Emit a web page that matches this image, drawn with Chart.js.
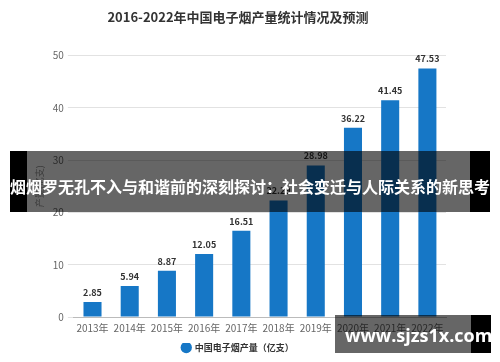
<!DOCTYPE html>
<html>
<head>
<meta charset="utf-8">
<script src="https://cdn.jsdelivr.net/npm/chart.js@4/dist/chart.umd.min.js"></script>
<style>
  html, body { margin: 0; padding: 0; background: #fff; }
  #wrap { position: relative; width: 500px; height: 362px; overflow: hidden; }
  #chart { position: absolute; left: 0; top: 0; }
  .banner {
    position: absolute; left: 10px; top: 151px; width: 480px; height: 61px;
    background: rgba(0,0,0,0.6);
  }
  .banner .edge-l { position: absolute; left: 0; top: 0; width: 17px; height: 100%; background: #000; }
  .banner .edge-r { position: absolute; right: 0; top: 0; width: 20px; height: 100%; background: #000; }
  .banner .txt {
    position: absolute; left: -10px; top: 25px; width: 500px; text-align: center;
    color: #fff; font: bold 16px "Noto Sans CJK SC", sans-serif; white-space: nowrap; line-height: 20px;
  }
  .mark {
    position: absolute; left: 335px; top: 315px; width: 156px; height: 38px;
    background: rgba(0,0,0,0.6);
  }
  .mark .edge-r { position: absolute; right: 0; top: 0; width: 20px; height: 100%; background: #000; }
  .mark .txt {
    position: absolute; left: 10px; top: 9px; color: #fff;
    font: bold 18px "Open Sans", sans-serif; line-height: 22px; white-space: nowrap;
  }
</style>
</head>
<body>
<div id="wrap">
  <canvas id="chart" width="500" height="362"></canvas>
  <div class="banner">
    <div class="edge-l"></div><div class="edge-r"></div>
    <div class="txt">烟烟罗无孔不入与和谐前的深刻探讨：社会变迁与人际关系的新思考</div>
  </div>
  <div class="mark">
    <div class="edge-r"></div>
    <div class="txt">www.sjzs1x.com</div>
  </div>
</div>
<script>
const years = ['2013年', '2014年', '2015年', '2016年', '2017年', '2018年', '2019年', '2020年', '2021年', '2022年'];
const output = [2.85, 5.94, 8.87, 12.05, 16.51, 22.29, 28.98, 36.22, 41.45, 47.53];
const seriesName = '中国电子烟产量（亿支）';
const chartTitle = '2016-2022年中国电子烟产量统计情况及预测';
const yTicks = [0, 10, 20, 30, 40, 50];

const FONT = '"Noto Sans CJK SC", "Noto Sans", sans-serif';
const BLUE = '#1677c6';

// value labels over bars
const barLabels = {
  id: 'barLabels',
  afterDatasetsDraw(chart) {
    const ctx = chart.ctx;
    const meta = chart.getDatasetMeta(0);
    ctx.save();
    ctx.font = 'bold 9px ' + FONT;
    ctx.fillStyle = '#333';
    ctx.textAlign = 'center';
    ctx.textBaseline = 'bottom';
    meta.data.forEach((bar, i) => {
      ctx.fillText(output[i].toFixed(2), bar.x, bar.y - 5);
    });
    ctx.restore();
  }
};

new Chart(document.getElementById('chart'), {
  type: 'bar',
  data: {
    labels: years,
    datasets: [{
      label: seriesName,
      data: output,
      backgroundColor: BLUE,
      barPercentage: 0.5,
      categoryPercentage: 0.97
    }]
  },
  options: {
    responsive: false,
    animation: false,
    layout: { padding: { left: 30, right: 54, top: 0, bottom: 0 } },
    plugins: {
      title: {
        display: true,
        text: chartTitle,
        color: '#333',
        font: { family: FONT, size: 13, weight: 'bold' },
        padding: { top: 9, bottom: 31 }
      },
      legend: {
        position: 'bottom',
        labels: {
          usePointStyle: true,
          pointStyle: 'circle',
          boxWidth: 8,
          boxHeight: 8,
          color: '#333',
          font: { family: FONT, size: 9, weight: 'bold' },
          padding: 0
        }
      },
      tooltip: { enabled: false }
    },
    scales: {
      x: {
        grid: { display: false, drawTicks: false },
        border: { color: '#bbb' },
        ticks: {
          color: '#666', font: { family: FONT, size: 10 }, padding: 5,
          maxRotation: 0, minRotation: 0, autoSkip: false
        },
        afterFit: axis => { axis.height += 4; }
      },
      y: {
        min: 0,
        max: 50,
        afterBuildTicks: axis => { axis.ticks = yTicks.map(v => ({ value: v })); },
        grid: { color: '#e2e2e2', tickLength: 6 },
        border: { display: false },
        ticks: { color: '#666', font: { family: FONT, size: 10 }, padding: 4 },
        title: {
          display: true,
          text: '产量(亿支)',
          color: '#999',
          font: { family: FONT, size: 9 },
          padding: { bottom: 4 }
        }
      }
    }
  },
  plugins: [barLabels]
});
</script>
</body>
</html>
